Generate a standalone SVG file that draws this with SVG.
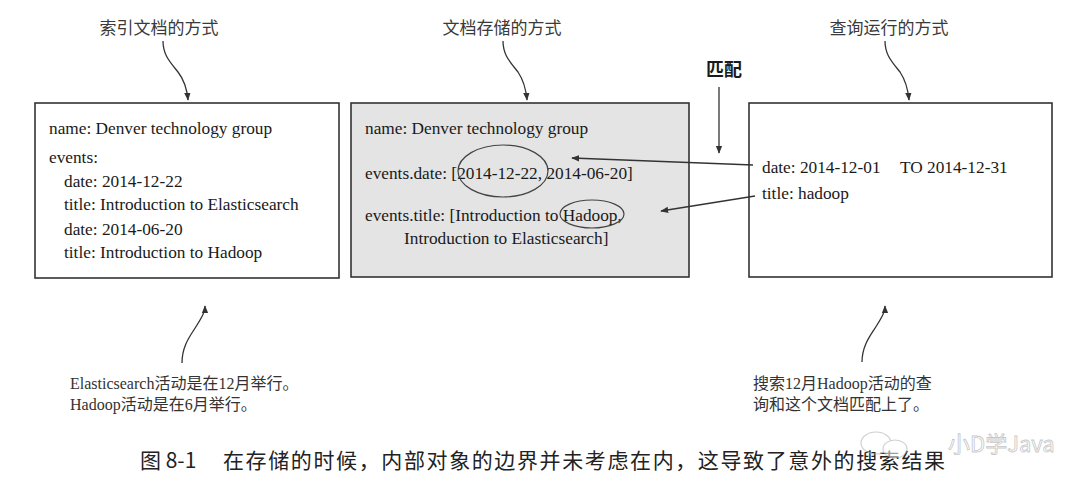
<svg xmlns="http://www.w3.org/2000/svg" width="1080" height="497" viewBox="0 0 1080 497">
  <defs>
    <marker id="ah" viewBox="0 0 10 10" refX="9" refY="5" markerWidth="8" markerHeight="8" markerUnits="userSpaceOnUse" orient="auto">
      <path d="M0,1 L10,5 L0,9 Z" fill="#333"/>
    </marker>
    <style>
      .box { fill: #ffffff; stroke: #333; stroke-width: 1.6; }
      .gray { fill: #e4e4e4; }
      .t { font-family: "Liberation Serif", "Noto Sans CJK SC", serif; font-size: 17.3px; fill: #1a1a1a; }
      .lbl { font-family: "Noto Sans CJK SC", sans-serif; font-size: 17px; fill: #3a3a3a; text-anchor: middle; }
      .note { font-family: "Liberation Serif", "Noto Sans CJK SC", serif; font-size: 16px; fill: #333; }
      .cap { font-family: "Noto Sans CJK SC", sans-serif; font-size: 21px; fill: #222; }
      .conn { fill: none; stroke: #333; stroke-width: 1.3; marker-end: url(#ah); }
      .ell { fill: none; stroke: #444; stroke-width: 1.2; }
    </style>
  </defs>
  <rect width="1080" height="497" fill="#ffffff"/>

  <g id="node-indexed">
    <rect class="box" x="35" y="103" width="304" height="175"/>
    <text class="t" x="49" y="134">name: Denver technology group</text>
    <text class="t" x="49" y="163">events:</text>
    <text class="t" x="64" y="187">date: 2014-12-22</text>
    <text class="t" x="64" y="210">title: Introduction to Elasticsearch</text>
    <text class="t" x="64" y="235">date: 2014-06-20</text>
    <text class="t" x="64" y="258">title: Introduction to Hadoop</text>
  </g>

  <g id="node-stored">
    <rect class="box gray" x="351" y="103" width="338" height="174"/>
    <text class="t" x="365" y="134">name: Denver technology group</text>
    <text class="t" x="365" y="179">events.date: [2014-12-22, 2014-06-20]</text>
    <text class="t" x="365" y="221">events.title: [Introduction to Hadoop,</text>
    <text class="t" x="404" y="244">Introduction to Elasticsearch]</text>
    <ellipse class="ell" cx="503" cy="171" rx="45" ry="26"/>
    <ellipse class="ell" cx="592" cy="214" rx="32" ry="14"/>
  </g>

  <g id="node-query">
    <rect class="box" x="749" y="103" width="303" height="174"/>
    <text class="t" x="762" y="173">date: 2014-12-01</text>
    <text class="t" x="900" y="173">TO 2014-12-31</text>
    <text class="t" x="762" y="199">title: hadoop</text>
  </g>

  <g id="label-indexed"><text class="lbl" x="159" y="34">索引文档的方式</text></g>
  <g id="label-stored"><text class="lbl" x="502" y="34">文档存储的方式</text></g>
  <g id="label-query"><text class="lbl" x="889" y="34">查询运行的方式</text></g>
  <g id="label-match"><text x="724" y="76" text-anchor="middle" style="font-family:'Noto Sans CJK SC',sans-serif;font-size:18px;font-weight:bold;fill:#1a1a1a">匹配</text></g>

  <g id="note-left">
    <text class="note" x="70" y="389">Elasticsearch活动是在12月举行。</text>
    <text class="note" x="70" y="410">Hadoop活动是在6月举行。</text>
  </g>
  <g id="note-right">
    <text class="note" x="753" y="389">搜索12月Hadoop活动的查</text>
    <text class="note" x="753" y="410">询和这个文档匹配上了。</text>
  </g>

  <g id="connectors">
    <path class="conn" d="M163,41 C163,55 170,62 178,72 C185,81 187,89 188,100"/>
    <path class="conn" d="M503,41 C503,55 510,62 518,72 C524,81 526,89 527,100"/>
    <path class="conn" d="M885,41 C885,55 892,62 900,72 C906,81 908,89 909,100"/>
    <path class="conn" d="M719,87 L719,153"/>
    <path class="conn" d="M753,165 L572,158"/>
    <path class="conn" d="M755,196 L661,211"/>
    <path class="conn" d="M182,363 C182,345 191,335 197,325 C202,317 205,312 205,306"/>
    <path class="conn" d="M862,362 C862,345 871,335 877,325 C882,317 885,312 885,306"/>
  </g>

  <g id="caption">
    <text class="cap" x="140" y="468">图 8-1</text>
    <text class="cap" x="223" y="468" textLength="722" lengthAdjust="spacing">在存储的时候，内部对象的边界并未考虑在内，这导致了意外的搜索结果</text>
  </g>

  <g id="watermark" opacity="0.55">
    <ellipse cx="876" cy="443" rx="15" ry="11" fill="none" stroke="#aaa" stroke-width="1.2"/>
    <ellipse cx="895" cy="449" rx="12" ry="9" fill="#fff" stroke="#aaa" stroke-width="1.2"/>
    <text x="948" y="452" style="font-family:'Noto Sans CJK SC',sans-serif;font-size:22px;fill:none;stroke:#999;stroke-width:0.8">小D学Java</text>
  </g>
</svg>
